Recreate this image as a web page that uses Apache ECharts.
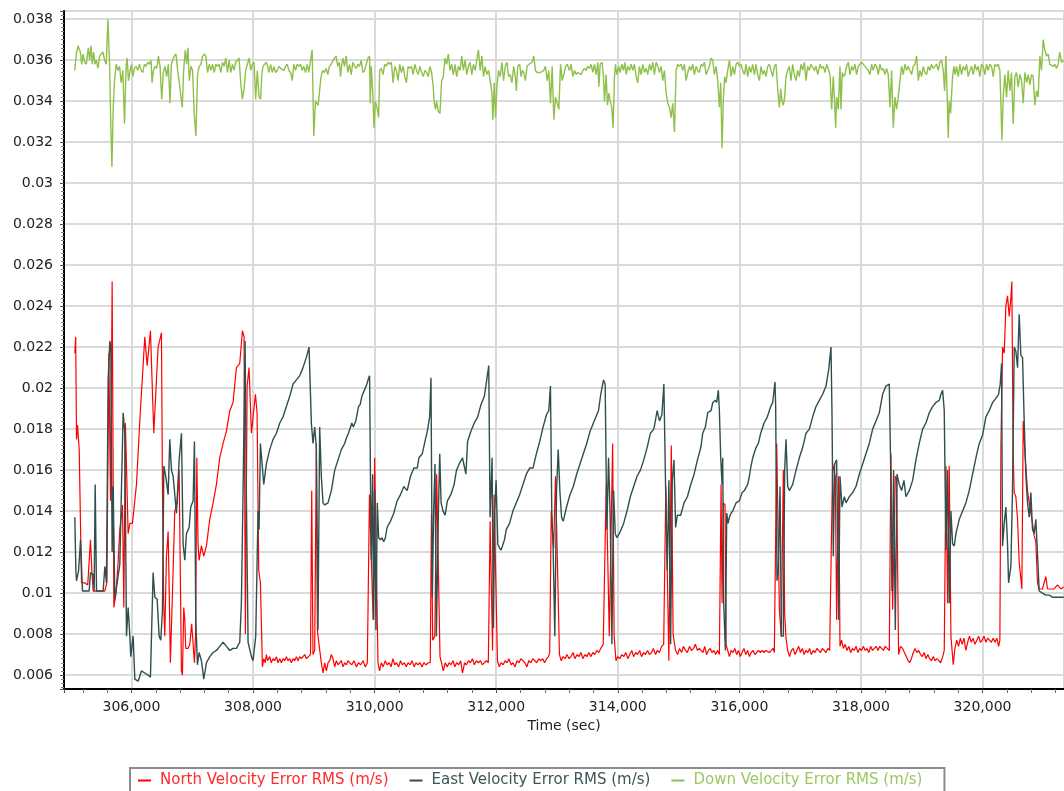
<!DOCTYPE html>
<html>
<head>
<meta charset="utf-8">
<script src="https://cdn.jsdelivr.net/npm/echarts/dist/echarts.min.js"></script>
<style>html,body{margin:0;padding:0;background:#fff;}#chart{width:1064px;height:791px;}</style>
</head>
<body>
<div id="chart"></div>
<script>
const seriesNames = ['North Velocity Error RMS (m/s)', 'East Velocity Error RMS (m/s)', 'Down Velocity Error RMS (m/s)'];
const seriesColors = ['#ff0000', '#2f4f4f', '#8fc04a'];
const legendTextColors = ['#ff2a2a', '#3d5656', '#9cc764'];
const xAxisName = 'Time (sec)';
const xRange = [304890, 321340];
const yRange = [0.00532, 0.0384];
const xStep = 2000;
const yStep = 0.002;

const northData = [
[305068,0.0217],[305082,0.0225],[305096,0.0175],[305112,0.0182],[305140,0.0170],[305178,0.0105],[305230,0.0105],[305280,0.0104],[305304,0.0104],[305326,0.0126],[305348,0.0111],[305370,0.0101],[305430,0.0101],[305500,0.0101],[305560,0.0101],[305595,0.0105],[305628,0.0217],[305655,0.0145],[305682,0.0252],[305710,0.0093],[305745,0.0100],[305780,0.0115],[305808,0.0131],[305852,0.0143],[305874,0.0093],[305900,0.0183],[305945,0.0129],[305973,0.0134],[306016,0.0134],[306082,0.0153],[306137,0.0184],[306219,0.0225],[306258,0.0211],[306312,0.0228],[306367,0.0178],[306438,0.0220],[306493,0.0227],[306510,0.0150],[306530,0.0095],[306548,0.0079],[306575,0.0118],[306603,0.0130],[306619,0.0104],[306640,0.0066],[306685,0.0111],[306712,0.0140],[306751,0.0144],[306784,0.0160],[306806,0.0160],[306822,0.0062],[306838,0.0060],[306860,0.0093],[306877,0.0087],[306893,0.0073],[306930,0.0073],[306959,0.0075],[306990,0.0085],[307014,0.0085],[307036,0.0066],[307055,0.0080],[307075,0.0166],[307095,0.0124],[307112,0.0116],[307151,0.0123],[307189,0.0118],[307233,0.0123],[307288,0.0136],[307343,0.0144],[307397,0.0153],[307452,0.0166],[307507,0.0173],[307562,0.0179],[307617,0.0189],[307671,0.0193],[307726,0.0210],[307781,0.0212],[307825,0.0228],[307852,0.0225],[307874,0.0080],[307902,0.0201],[307934,0.0210],[307973,0.0178],[308000,0.0186],[308039,0.0197],[308066,0.0188],[308093,0.0111],[308121,0.0105],[308154,0.0064],
[308176,0.0068],[308200,0.0066],[308219,0.0070],[308240,0.0067],[308274,0.0069],[308300,0.0066],[308329,0.0068],[308355,0.0067],[308384,0.0069],[308410,0.0066],[308439,0.0068],[308465,0.0066],[308493,0.0068],[308520,0.0067],[308548,0.0069],[308575,0.0067],[308603,0.0068],[308630,0.0066],[308658,0.0068],[308685,0.0067],[308713,0.0069],[308740,0.0067],[308767,0.0069],[308795,0.0068],[308822,0.0069],[308850,0.0070],[308877,0.0068],[308910,0.0069],[308945,0.0070],[308965,0.0150],[308986,0.0070],[309014,0.0072],[309041,0.0173],[309058,0.0082],[309085,0.0075],[309123,0.0066],[309151,0.0061],[309178,0.0066],[309206,0.0062],[309233,0.0066],[309261,0.0067],[309288,0.0070],[309315,0.0068],[309343,0.0064],[309370,0.0067],[309398,0.0065],[309425,0.0066],[309452,0.0067],[309480,0.0064],[309507,0.0066],[309535,0.0065],[309562,0.0067],
[309589,0.0066],[309625,0.0065],[309660,0.0067],[309700,0.0064],[309735,0.0066],[309770,0.0065],[309810,0.0067],[309845,0.0064],[309880,0.0066],[309901,0.0066],[309915,0.0148],[309945,0.0148],[309975,0.0087],[310000,0.0166],[310030,0.0166],[310055,0.0066],[310080,0.0062],[310110,0.0066],[310140,0.0064],[310175,0.0067],[310205,0.0065],[310240,0.0066],[310270,0.0064],[310300,0.0068],[310330,0.0065],[310360,0.0066],[310395,0.0064],[310425,0.0067],[310455,0.0065],[310490,0.0066],[310520,0.0064],[310550,0.0066],[310585,0.0065],[310615,0.0067],[310650,0.0064],[310680,0.0066],[310710,0.0065],[310745,0.0066],[310780,0.0064],[310810,0.0066],[310845,0.0065],[310880,0.0066],[310915,0.0066],[310935,0.0139],[310955,0.0077],[310990,0.0079],[311020,0.0158],[311045,0.0158],[311075,0.0069],[311100,0.0066],[311130,0.0062],[311160,0.0066],[311195,0.0064],[311225,0.0066],[311255,0.0065],[311290,0.0067],[311320,0.0064],[311350,0.0066],[311385,0.0065],[311415,0.0067],[311445,0.0061],[311480,0.0066],[311510,0.0065],[311545,0.0067],[311575,0.0066],[311610,0.0068],[311640,0.0065],[311675,0.0067],[311705,0.0066],[311740,0.0067],[311770,0.0065],[311805,0.0066],[311840,0.0067],[311870,0.0066],[311900,0.0135],[311940,0.0072],[311965,0.0148],[311990,0.0148],[312020,0.0067],[312050,0.0064],[312080,0.0066],[312115,0.0065],[312145,0.0067],[312180,0.0066],[312210,0.0068],[312245,0.0065],[312275,0.0066],[312310,0.0064],[312340,0.0067],[312375,0.0066],[312405,0.0068],[312440,0.0067],[312470,0.0066],[312505,0.0064],[312535,0.0067],[312570,0.0066],[312600,0.0068],[312635,0.0067],[312665,0.0066],[312700,0.0068],[312730,0.0067],[312765,0.0068],[312795,0.0066],[312830,0.0068],[312860,0.0069],[312880,0.0071],[312905,0.0140],[312945,0.0122],[312975,0.0157],[313000,0.0157],[313040,0.0070],[313070,0.0067],[313100,0.0069],[313135,0.0068],[313165,0.0070],[313200,0.0068],[313230,0.0069],[313265,0.0071],[313295,0.0068],[313330,0.0070],[313360,0.0069],[313395,0.0071],[313425,0.0068],[313460,0.0070],[313490,0.0069],[313525,0.0071],[313555,0.0069],[313590,0.0071],[313620,0.0070],[313655,0.0072],[313685,0.0071],[313720,0.0073],[313760,0.0075],[313810,0.0153],[313860,0.0079],[313915,0.0173],[313940,0.0079],[313970,0.0067],[314000,0.0069],[314035,0.0068],[314065,0.0070],[314100,0.0069],[314130,0.0071],[314165,0.0068],[314195,0.0070],[314230,0.0072],[314260,0.0069],[314295,0.0071],[314325,0.0070],[314360,0.0072],[314390,0.0069],[314425,0.0071],[314455,0.0070],[314490,0.0072],[314520,0.0070],[314555,0.0071],[314585,0.0073],[314620,0.0070],[314650,0.0072],[314685,0.0071],[314720,0.0074],[314755,0.0075],[314790,0.0152],[314840,0.0067],[314880,0.0172],[314910,0.0080],[314950,0.0072],[314985,0.0070],[315015,0.0073],[315050,0.0071],[315080,0.0074],[315115,0.0072],[315145,0.0071],[315180,0.0074],[315210,0.0072],[315245,0.0073],[315275,0.0075],[315310,0.0072],[315340,0.0073],
[315370,0.0072],[315400,0.0071],[315430,0.0074],[315460,0.0070],[315490,0.0072],[315520,0.0073],[315550,0.0071],[315580,0.0072],[315610,0.0070],[315640,0.0072],[315671,0.0070],[315699,0.0153],[315715,0.0095],[315737,0.0144],[315764,0.0143],[315781,0.0075],[315808,0.0072],[315836,0.0069],[315865,0.0072],[315895,0.0071],[315925,0.0073],[315955,0.0070],[315985,0.0072],[316015,0.0069],[316045,0.0071],[316075,0.0073],[316105,0.0070],[316135,0.0072],[316165,0.0069],[316195,0.0071],[316225,0.0072],[316255,0.0070],[316285,0.0071],[316315,0.0072],[316345,0.0071],[316375,0.0072],[316405,0.0071],[316435,0.0072],[316465,0.0072],[316495,0.0071],[316525,0.0072],[316555,0.0073],[316575,0.0071],[316614,0.0173],[316636,0.0173],[316658,0.0092],[316690,0.0079],[316723,0.0160],[316745,0.0090],[316767,0.0078],[316795,0.0072],[316825,0.0069],[316855,0.0072],[316885,0.0073],[316915,0.0070],[316945,0.0072],[316975,0.0074],[317005,0.0071],[317035,0.0073],[317065,0.0070],[317095,0.0072],[317125,0.0071],[317155,0.0073],[317185,0.0070],[317215,0.0072],[317245,0.0071],[317275,0.0073],[317305,0.0072],[317335,0.0071],[317365,0.0073],[317395,0.0072],[317425,0.0071],[317455,0.0073],[317485,0.0072],[317507,0.0072],[317534,0.0163],[317578,0.0157],[317600,0.0087],[317633,0.0157],[317655,0.0074],[317680,0.0077],[317710,0.0073],[317740,0.0075],[317770,0.0072],[317800,0.0074],[317830,0.0071],[317860,0.0073],[317890,0.0072],[317920,0.0074],[317950,0.0071],[317980,0.0073],[318010,0.0072],[318040,0.0074],[318070,0.0072],[318100,0.0073],[318130,0.0071],[318160,0.0074],[318190,0.0072],[318220,0.0073],[318250,0.0074],[318280,0.0072],[318310,0.0074],[318340,0.0073],[318370,0.0072],[318400,0.0074],[318430,0.0073],[318466,0.0072],[318493,0.0168],[318521,0.0092],[318565,0.0157],[318587,0.0156],[318619,0.0070],[318650,0.0074],[318685,0.0073],[318715,0.0071],[318745,0.0069],[318775,0.0067],[318800,0.0066],[318830,0.0068],[318860,0.0071],[318890,0.0073],[318920,0.0071],[318950,0.0072],[318980,0.0070],[319010,0.0069],[319040,0.0071],[319070,0.0068],[319100,0.0070],[319130,0.0068],[319160,0.0067],[319190,0.0069],[319220,0.0067],[319250,0.0068],[319280,0.0067],[319310,0.0066],[319345,0.0069],[319370,0.0072],[319398,0.0162],[319425,0.0095],[319452,0.0162],[319480,0.0079],[319518,0.0065],[319545,0.0073],[319575,0.0077],[319605,0.0074],[319635,0.0078],[319665,0.0075],[319695,0.0078],[319725,0.0072],[319755,0.0076],[319785,0.0079],[319815,0.0076],[319845,0.0078],[319875,0.0075],[319905,0.0077],[319935,0.0079],[319965,0.0076],[319995,0.0077],[320025,0.0079],[320055,0.0076],[320085,0.0078],[320115,0.0077],[320145,0.0076],[320175,0.0078],[320205,0.0076],[320235,0.0078],[320265,0.0074],[320285,0.0077],
[320302,0.0171],[320329,0.0220],[320357,0.0217],[320384,0.0240],[320411,0.0245],[320439,0.0235],[320466,0.0244],[320482,0.0252],[320504,0.0167],[320521,0.0149],[320548,0.0147],[320576,0.0136],[320603,0.0115],[320630,0.0115],[320647,0.0102],[320669,0.0184],[320702,0.0166],[320740,0.0150],[320768,0.0144],[320822,0.0134],[320850,0.0128],[320877,0.0125],[320904,0.0105],[320932,0.0102],[320986,0.0102],[321041,0.0108],[321069,0.0102],[321123,0.0102],[321178,0.0102],[321233,0.0104],[321288,0.0102],[321337,0.0103]
];

const eastData = [
[305068,0.0137],[305085,0.0111],[305096,0.0106],[305130,0.0111],[305162,0.0126],[305194,0.0101],[305250,0.0101],[305304,0.0101],[305326,0.0110],[305370,0.0109],[305386,0.0101],[305403,0.0153],[305425,0.0101],[305480,0.0101],[305534,0.0101],[305562,0.0113],[305589,0.0105],[305616,0.0204],[305644,0.0223],[305660,0.0220],[305682,0.0120],[305699,0.0152],[305726,0.0097],[305753,0.0097],[305808,0.0114],[305863,0.0188],[305890,0.0178],[305918,0.0079],[305945,0.0093],[305973,0.0079],[305989,0.0069],[306027,0.0079],[306055,0.0058],[306110,0.0057],[306164,0.0062],[306219,0.0061],[306274,0.0060],[306312,0.0059],[306356,0.0110],[306384,0.0098],[306422,0.0097],[306455,0.0079],[306482,0.0077],[306510,0.0092],[306532,0.0162],[306564,0.0157],[306603,0.0148],[306630,0.0175],[306658,0.0160],[306685,0.0157],[306740,0.0139],[306784,0.0165],[306822,0.0178],[306849,0.0124],[306877,0.0116],[306904,0.0129],[306948,0.0132],[306975,0.0142],[307014,0.0145],[307036,0.0174],[307058,0.0087],[307085,0.0065],[307112,0.0071],[307151,0.0067],[307189,0.0058],[307233,0.0066],[307288,0.0069],[307343,0.0071],[307397,0.0072],[307452,0.0074],[307507,0.0076],[307562,0.0074],[307617,0.0072],[307671,0.0073],[307726,0.0073],[307781,0.0076],[307808,0.0095],[307836,0.0150],[307869,0.0223],[307891,0.0144],[307918,0.0076],[307973,0.0069],[308000,0.0067],[308044,0.0079],[308082,0.0140],[308099,0.0131],[308121,0.0173],[308176,0.0153],[308219,0.0163],[308274,0.0170],[308329,0.0175],[308384,0.0178],[308439,0.0183],[308493,0.0186],[308548,0.0191],[308603,0.0196],[308658,0.0202],[308713,0.0204],[308767,0.0206],[308822,0.0210],[308877,0.0215],[308921,0.0220],[308959,0.0183],[308986,0.0173],[309014,0.0181],[309041,0.0171],[309068,0.0082],[309096,0.0181],[309123,0.0157],[309151,0.0144],[309178,0.0143],[309233,0.0144],[309288,0.0150],[309343,0.0160],[309398,0.0165],[309452,0.0170],[309507,0.0173],[309540,0.0176],
[309569,0.0178],[309625,0.0183],[309650,0.0181],[309690,0.0184],[309735,0.0191],[309762,0.0192],[309790,0.0196],[309818,0.0196],[309845,0.0200],[309873,0.0202],[309901,0.0205],[309917,0.0206],[309934,0.0147],[309945,0.0116],[309967,0.0158],[309983,0.0087],[310000,0.0150],[310022,0.0082],[310044,0.0144],[310066,0.0127],[310094,0.0126],[310121,0.0127],[310149,0.0125],[310177,0.0127],[310204,0.0132],[310260,0.0135],[310315,0.0139],[310370,0.0145],[310425,0.0148],[310480,0.0152],[310535,0.0150],[310590,0.0157],[310646,0.0161],[310701,0.0161],[310729,0.0166],[310784,0.0168],[310828,0.0174],[310867,0.0179],[310905,0.0186],[310927,0.0205],[310949,0.0098],[310971,0.0140],[310993,0.0163],[311016,0.0079],[311049,0.0140],[311071,0.0168],[311093,0.0144],[311126,0.0140],[311159,0.0138],[311197,0.0145],[311253,0.0148],[311308,0.0153],[311347,0.0160],[311391,0.0163],[311446,0.0166],[311501,0.0158],[311529,0.0174],[311584,0.0179],[311639,0.0183],[311695,0.0186],[311750,0.0192],[311805,0.0196],[311844,0.0204],[311877,0.0211],[311899,0.0137],[311932,0.0166],[311954,0.0083],[311976,0.0140],[311998,0.0155],[312026,0.0124],[312053,0.0122],[312081,0.0121],[312136,0.0126],[312164,0.0131],[312219,0.0134],[312274,0.0140],[312329,0.0144],[312385,0.0148],[312440,0.0153],[312495,0.0158],[312550,0.0161],[312605,0.0161],[312661,0.0168],[312716,0.0174],[312771,0.0181],[312826,0.0187],[312865,0.0189],[312892,0.0201],[312914,0.0140],[312936,0.0122],[312964,0.0079],[312992,0.0150],[313020,0.0170],[313047,0.0150],[313075,0.0137],[313102,0.0135],[313157,0.0142],[313213,0.0148],[313268,0.0152],[313323,0.0158],[313378,0.0163],[313433,0.0168],[313489,0.0173],[313544,0.0179],[313599,0.0183],[313654,0.0187],[313682,0.0189],[313720,0.0197],[313765,0.0204],[313792,0.0202],[313820,0.0131],[313848,0.0166],[313875,0.0137],[313903,0.0075],[313930,0.0150],[313958,0.0129],[313985,0.0127],[314041,0.0130],[314096,0.0134],[314151,0.0140],[314206,0.0147],[314261,0.0152],[314317,0.0157],[314372,0.0160],[314427,0.0165],[314482,0.0171],[314537,0.0178],[314593,0.0180],[314648,0.0189],[314686,0.0184],[314725,0.0187],[314758,0.0202],[314786,0.0152],[314813,0.0111],[314841,0.0155],[314869,0.0075],[314896,0.0155],[314924,0.0165],[314951,0.0132],[314979,0.0138],[315034,0.0138],[315089,0.0144],[315145,0.0147],[315200,0.0153],[315255,0.0158],[315310,0.0165],[315366,0.0171],
[315397,0.0178],[315440,0.0181],[315480,0.0188],[315535,0.0189],[315562,0.0193],[315605,0.0194],[315627,0.0193],[315654,0.0199],[315671,0.0189],[315693,0.0166],[315715,0.0153],[315726,0.0166],[315742,0.0095],[315770,0.0072],[315792,0.0139],[315814,0.0134],[315836,0.0137],[315863,0.0139],[315890,0.0140],[315945,0.0144],[316000,0.0145],[316044,0.0149],[316082,0.0150],[316137,0.0153],[316164,0.0157],[316192,0.0162],[316219,0.0166],[316274,0.0171],[316312,0.0173],[316351,0.0178],[316406,0.0183],[316460,0.0186],[316515,0.0191],[316548,0.0193],[316586,0.0203],[316597,0.0191],[316619,0.0106],[316641,0.0111],[316669,0.0152],[316690,0.0079],[316723,0.0079],[316745,0.0160],[316767,0.0175],[316795,0.0152],[316822,0.0150],[316877,0.0153],[316932,0.0160],[316986,0.0166],[317041,0.0171],[317096,0.0178],[317151,0.0180],[317206,0.0186],[317260,0.0191],[317315,0.0194],[317370,0.0197],[317425,0.0201],[317469,0.0209],[317507,0.0220],[317523,0.0189],[317545,0.0118],[317567,0.0163],[317600,0.0165],[317633,0.0087],[317655,0.0157],[317688,0.0142],[317726,0.0147],[317754,0.0144],[317808,0.0147],[317863,0.0149],[317918,0.0152],[317973,0.0158],[318028,0.0163],[318082,0.0168],[318137,0.0173],[318192,0.0180],[318247,0.0184],[318302,0.0188],[318356,0.0197],[318411,0.0201],[318466,0.0202],[318488,0.0163],[318510,0.0101],[318537,0.0160],[318565,0.0082],[318592,0.0158],[318630,0.0153],[318668,0.0150],[318707,0.0155],[318740,0.0147],[318795,0.0150],[318850,0.0155],[318904,0.0165],[318959,0.0173],[319014,0.0180],[319069,0.0183],[319124,0.0188],[319178,0.0191],[319233,0.0193],[319288,0.0194],[319315,0.0197],[319343,0.0199],[319370,0.0189],[319398,0.0121],[319425,0.0160],[319452,0.0095],[319480,0.0140],[319507,0.0124],[319535,0.0123],[319562,0.0129],[319617,0.0136],[319672,0.0140],[319726,0.0144],[319781,0.0150],[319836,0.0158],[319891,0.0166],[319946,0.0173],[320000,0.0177],[320055,0.0186],[320110,0.0189],[320165,0.0193],[320220,0.0195],[320263,0.0197],[320291,0.0202],[320313,0.0212],[320329,0.0123],[320357,0.0134],[320384,0.0142],[320411,0.0124],[320428,0.0105],[320466,0.0113],[320493,0.0150],[320521,0.0220],[320548,0.0218],[320576,0.0210],[320603,0.0236],[320630,0.0216],[320658,0.0215],[320685,0.0184],[320713,0.0157],[320740,0.0144],[320768,0.0137],[320795,0.0149],[320822,0.0131],[320850,0.0129],[320877,0.0136],[320904,0.0119],[320932,0.0101],[320986,0.0100],[321041,0.0099],[321096,0.0099],[321151,0.0098],[321288,0.0098],[321337,0.0098]
];

const downData = [
[305066,0.0355],[305093,0.0363],[305120,0.0367],[305159,0.0364],[305181,0.0358],[305202,0.0363],[305230,0.0359],[305257,0.0358],[305290,0.0366],[305312,0.0360],[305334,0.0367],[305355,0.0358],[305377,0.0364],[305399,0.0358],[305421,0.0360],[305448,0.0356],[305476,0.0362],[305503,0.0363],[305530,0.0364],[305558,0.0360],[305585,0.0358],[305612,0.0380],[305640,0.0358],[305656,0.0334],[305678,0.0308],[305700,0.0337],[305721,0.0350],[305749,0.0358],[305776,0.0355],[305803,0.0357],[305831,0.0349],[305858,0.0355],[305885,0.0329],[305913,0.0358],[305929,0.0361],[305951,0.0350],[305978,0.0355],[306000,0.0358],[306022,0.0352],[306049,0.0356],[306076,0.0357],[306104,0.0355],[306131,0.0358],[306158,0.0355],[306186,0.0354],[306213,0.0358],[306240,0.0357],[306268,0.0359],[306295,0.0358],[306322,0.0360],[306339,0.0349],[306361,0.0355],[306388,0.0357],[306415,0.0356],[306443,0.0362],[306470,0.0357],[306497,0.0341],[306524,0.0354],[306552,0.0357],[306579,0.0352],[306606,0.0358],[306634,0.0339],[306656,0.0358],[306677,0.0360],[306705,0.0362],[306732,0.0363],[306759,0.0355],[306787,0.0349],[306814,0.0342],[306836,0.0337],[306858,0.0355],[306885,0.0365],[306907,0.0358],[306929,0.0366],[306951,0.0350],[306978,0.0357],[307005,0.0355],[307033,0.0333],[307060,0.0323],[307087,0.0353],[307115,0.0357],[307142,0.0358],[307169,0.0362],[307197,0.0363],[307224,0.0362],[307251,0.0354],[307279,0.0358],[307306,0.0355],[307333,0.0358],[307361,0.0354],[307388,0.0358],[307415,0.0357],[307442,0.0358],[307470,0.0354],[307497,0.0359],[307524,0.0357],[307552,0.0361],[307579,0.0354],[307606,0.0360],[307633,0.0354],[307661,0.0358],[307688,0.0355],[307715,0.0359],[307743,0.0360],[307770,0.0361],[307797,0.0349],[307825,0.0341],[307852,0.0346],[307879,0.0355],[307907,0.0358],[307934,0.0361],[307961,0.0355],[307988,0.0358],[308016,0.0359],[308043,0.0341],[308070,0.0355],[308098,0.0342],[308125,0.0341],[308141,0.0352],[308163,0.0357],[308191,0.0358],[308218,0.0359],[308240,0.0357],[308262,0.0354],[308289,0.0358],[308316,0.0354],[308344,0.0357],[308371,0.0354],[308398,0.0355],[308426,0.0357],[308453,0.0356],[308480,0.0356],[308508,0.0355],[308535,0.0357],[308562,0.0358],[308589,0.0355],[308617,0.0354],[308644,0.0350],[308671,0.0358],[308699,0.0355],[308726,0.0358],[308753,0.0357],[308781,0.0358],[308808,0.0355],[308835,0.0357],[308863,0.0354],[308890,0.0358],[308917,0.0354],[308945,0.0354],[308972,0.0365],[308999,0.0323],[309027,0.0340],[309070,0.0338],
[309118,0.0352],[309146,0.0355],[309174,0.0354],[309201,0.0356],[309229,0.0353],[309256,0.0357],[309284,0.0358],[309311,0.0358],[309339,0.0361],[309366,0.0362],[309394,0.0357],[309421,0.0359],[309438,0.0352],[309460,0.0358],[309477,0.0361],[309504,0.0357],[309532,0.0362],[309559,0.0354],[309587,0.0358],[309614,0.0353],[309642,0.0359],[309669,0.0357],[309697,0.0356],[309724,0.0358],[309752,0.0357],[309780,0.0360],[309807,0.0354],[309835,0.0355],[309862,0.0358],[309890,0.0361],[309917,0.0362],[309928,0.0339],[309945,0.0357],[309972,0.0342],[309989,0.0327],[310011,0.0340],[310039,0.0337],[310066,0.0332],[310083,0.0355],[310110,0.0356],[310138,0.0353],[310165,0.0358],[310193,0.0357],[310220,0.0359],[310248,0.0358],[310276,0.0359],[310303,0.0349],[310331,0.0357],[310358,0.0355],[310386,0.0350],[310413,0.0358],[310441,0.0354],[310468,0.0357],[310496,0.0352],[310523,0.0349],[310551,0.0357],[310579,0.0356],[310606,0.0357],[310634,0.0353],[310661,0.0358],[310689,0.0355],[310716,0.0353],[310744,0.0357],[310771,0.0354],[310799,0.0352],[310827,0.0355],[310854,0.0354],[310882,0.0352],[310909,0.0357],[310937,0.0354],[310964,0.0347],[310981,0.0339],[311003,0.0336],[311019,0.0340],[311047,0.0335],[311074,0.0334],[311102,0.0350],[311130,0.0352],[311157,0.0361],[311185,0.0358],[311212,0.0363],[311240,0.0355],[311267,0.0358],[311295,0.0353],[311322,0.0358],[311350,0.0352],[311378,0.0357],[311405,0.0355],[311433,0.0362],[311460,0.0355],[311488,0.0360],[311515,0.0353],[311543,0.0357],[311570,0.0359],[311598,0.0353],[311625,0.0358],[311653,0.0355],[311681,0.0360],[311708,0.0365],[311736,0.0355],[311763,0.0362],[311791,0.0352],[311818,0.0357],[311846,0.0353],[311873,0.0355],[311901,0.0350],[311929,0.0344],[311945,0.0331],[311967,0.0349],[311989,0.0332],[312011,0.0347],[312039,0.0355],[312066,0.0352],[312094,0.0359],[312121,0.0350],[312149,0.0357],[312176,0.0359],[312204,0.0352],[312231,0.0353],[312259,0.0349],[312287,0.0357],[312314,0.0352],[312331,0.0345],[312353,0.0357],[312386,0.0358],[312408,0.0352],[312430,0.0355],[312452,0.0354],[312480,0.0350],[312507,0.0357],[312535,0.0358],[312562,0.0358],[312590,0.0359],[312617,0.0362],[312645,0.0355],[312672,0.0354],[312727,0.0354],[312783,0.0355],[312810,0.0357],[312838,0.0350],[312865,0.0355],[312893,0.0339],[312920,0.0357],[312948,0.0331],[312975,0.0342],[313003,0.0339],[313030,0.0336],[313058,0.0358],[313086,0.0350],[313113,0.0353],[313141,0.0357],[313168,0.0358],
[313205,0.0355],[313233,0.0358],[313260,0.0352],[313288,0.0355],[313315,0.0353],[313342,0.0354],[313370,0.0354],[313397,0.0353],[313425,0.0355],[313452,0.0356],[313479,0.0355],[313507,0.0357],[313534,0.0356],[313562,0.0358],[313589,0.0354],[313616,0.0358],[313644,0.0353],[313671,0.0359],[313688,0.0347],[313710,0.0358],[313742,0.0359],[313764,0.0352],[313781,0.0340],[313808,0.0353],[313830,0.0338],[313852,0.0344],[313874,0.0340],[313901,0.0337],[313923,0.0327],[313945,0.0352],[313962,0.0358],[313984,0.0353],[314016,0.0357],[314038,0.0354],[314066,0.0358],[314093,0.0355],[314115,0.0359],[314137,0.0353],[314164,0.0357],[314192,0.0355],[314219,0.0358],[314247,0.0355],[314274,0.0358],[314301,0.0352],[314329,0.0349],[314356,0.0357],[314384,0.0353],[314411,0.0358],[314438,0.0354],[314466,0.0356],[314493,0.0353],[314521,0.0358],[314548,0.0355],[314575,0.0359],[314603,0.0353],[314630,0.0359],[314658,0.0357],[314685,0.0354],[314712,0.0357],[314740,0.0350],[314767,0.0355],[314795,0.0344],[314822,0.0339],[314849,0.0337],[314877,0.0332],[314904,0.0339],[314932,0.0325],[314959,0.0355],[314986,0.0358],[315014,0.0357],[315041,0.0358],[315069,0.0355],[315096,0.0358],[315123,0.0350],[315151,0.0354],[315178,0.0357],[315206,0.0355],[315233,0.0358],[315260,0.0353],[315288,0.0357],[315315,0.0355],[315343,0.0354],[315370,0.0358],[315397,0.0357],[315425,0.0359],[315452,0.0353],[315480,0.0355],[315507,0.0357],[315534,0.0361],[315562,0.0360],[315589,0.0353],[315617,0.0357],[315644,0.0350],[315671,0.0337],[315693,0.0349],[315715,0.0317],[315737,0.0342],[315759,0.0352],[315781,0.0349],[315808,0.0355],[315836,0.0360],[315863,0.0352],[315891,0.0357],[315918,0.0353],[315945,0.0358],[315973,0.0359],[316000,0.0357],[316027,0.0358],[316055,0.0355],[316082,0.0353],[316110,0.0358],[316137,0.0352],[316164,0.0357],[316192,0.0354],[316219,0.0358],[316247,0.0353],[316274,0.0358],[316301,0.0353],[316329,0.0350],[316356,0.0357],[316384,0.0353],[316411,0.0355],[316438,0.0352],[316466,0.0357],[316493,0.0358],[316521,0.0355],[316548,0.0352],[316575,0.0357],[316603,0.0358],[316630,0.0346],[316658,0.0337],[316680,0.0346],[316702,0.0340],[316723,0.0338],[316745,0.0342],[316767,0.0352],[316795,0.0355],[316822,0.0357],[316849,0.0350],[316877,0.0358],[316904,0.0353],[316932,0.0350],[316959,0.0355],[316986,0.0352],[317014,0.0358],[317041,0.0355],[317069,0.0359],[317096,0.0350],[317123,0.0357],[317151,0.0355],[317178,0.0358],[317206,0.0358],[317233,0.0355],[317260,0.0357],[317288,0.0353],
[317326,0.0358],[317353,0.0356],[317381,0.0357],[317408,0.0354],[317436,0.0358],[317463,0.0358],[317490,0.0353],[317518,0.0336],[317545,0.0352],[317562,0.0342],[317584,0.0327],[317600,0.0342],[317627,0.0336],[317655,0.0357],[317671,0.0336],[317693,0.0354],[317710,0.0352],[317737,0.0353],[317764,0.0357],[317792,0.0359],[317819,0.0353],[317847,0.0357],[317874,0.0355],[317901,0.0358],[317929,0.0353],[317956,0.0357],[317984,0.0358],[318011,0.0359],[318038,0.0358],[318066,0.0357],[318093,0.0356],[318121,0.0355],[318148,0.0353],[318175,0.0358],[318203,0.0355],[318230,0.0358],[318258,0.0357],[318285,0.0353],[318312,0.0358],[318340,0.0355],[318367,0.0356],[318395,0.0353],[318422,0.0356],[318449,0.0353],[318477,0.0337],[318504,0.0355],[318532,0.0327],[318559,0.0342],[318586,0.0336],[318614,0.0342],[318641,0.0350],[318669,0.0357],[318696,0.0353],[318723,0.0358],[318751,0.0355],[318778,0.0357],[318806,0.0357],[318833,0.0353],[318860,0.0357],[318888,0.0358],[318915,0.0362],[318943,0.0350],[318970,0.0355],[318997,0.0352],[319025,0.0357],[319052,0.0354],[319080,0.0353],[319107,0.0357],[319134,0.0355],[319162,0.0358],[319189,0.0356],[319217,0.0357],[319244,0.0358],[319271,0.0355],[319299,0.0359],[319326,0.0360],[319354,0.0355],[319376,0.0345],[319397,0.0362],[319419,0.0342],[319436,0.0322],[319452,0.0340],[319474,0.0334],[319507,0.0352],[319529,0.0357],[319551,0.0353],[319573,0.0357],[319600,0.0352],[319628,0.0358],[319655,0.0353],[319682,0.0357],[319710,0.0355],[319737,0.0358],[319764,0.0352],[319792,0.0355],[319819,0.0357],[319847,0.0353],[319874,0.0358],[319902,0.0355],[319929,0.0357],[319956,0.0352],[319984,0.0358],[320011,0.0357],[320039,0.0353],[320066,0.0358],[320093,0.0355],[320121,0.0358],[320148,0.0357],[320176,0.0352],[320203,0.0358],[320230,0.0357],[320258,0.0358],[320285,0.0355],[320302,0.0339],[320318,0.0321],[320340,0.0342],[320367,0.0353],[320395,0.0342],[320422,0.0355],[320449,0.0345],[320477,0.0354],[320504,0.0329],[320532,0.0352],[320559,0.0354],[320586,0.0347],[320614,0.0353],[320641,0.0350],[320669,0.0339],[320696,0.0354],[320724,0.0349],[320751,0.0353],[320778,0.0348],[320806,0.0353],[320833,0.0352],[320860,0.0338],[320888,0.0345],[320915,0.0342],[320943,0.0362],[320970,0.0355],[320997,0.0370],[321025,0.0365],[321052,0.0362],[321080,0.0363],[321107,0.0358],[321134,0.0358],[321162,0.0357],[321189,0.0358],[321217,0.0356],[321244,0.0358],[321271,0.0364],[321299,0.0359],[321337,0.0360]
];

const allData = [northData, eastData, downData];
const FONT = 'DejaVu Sans';

const chart = echarts.init(document.getElementById('chart'), null, {renderer: 'canvas'});
chart.setOption({
  animation: false,
  backgroundColor: '#ffffff',
  textStyle: {fontFamily: FONT},
  grid: {left: 64, right: 0, top: 11, bottom: 102, show: true, borderColor: '#8a8a8a', borderWidth: 1.5, backgroundColor: 'transparent'},
  legend: {
    left: 130, top: 768,
    padding: [5, 22, 5, 8],
    borderColor: '#8c8c8c', borderWidth: 2, borderRadius: 0,
    icon: 'rect', itemWidth: 13, itemHeight: 2, itemGap: 21,
    textStyle: {fontSize: 15, fontFamily: FONT, padding: [0, 0, 0, 4]},
    data: seriesNames.map((n, i) => ({name: n, textStyle: {color: legendTextColors[i]}}))
  },
  xAxis: {
    type: 'value', min: xRange[0], max: xRange[1], minInterval: xStep, maxInterval: xStep,
    name: xAxisName, nameLocation: 'middle', nameGap: 30,
    nameTextStyle: {fontSize: 14, color: '#222', fontFamily: FONT},
    axisLine: {show: true, onZero: false, lineStyle: {color: '#000', width: 2}},
    axisTick: {show: true, length: 4, lineStyle: {color: '#555'}},
    minorTick: {show: true, splitNumber: 5, length: 4, lineStyle: {color: '#777'}},
    splitLine: {show: true, lineStyle: {color: '#dadada', width: 2}},
    axisLabel: {showMinLabel: false, showMaxLabel: false, fontSize: 14, color: '#222', margin: 11, fontFamily: FONT}
  },
  yAxis: {
    type: 'value', min: yRange[0], max: yRange[1], minInterval: yStep, maxInterval: yStep,
    axisLine: {show: true, onZero: false, lineStyle: {color: '#000', width: 2}},
    axisTick: {show: true, length: 4, lineStyle: {color: '#555'}},
    minorTick: {show: true, splitNumber: 10, length: 3, lineStyle: {color: '#888'}},
    splitLine: {show: true, lineStyle: {color: '#dadada', width: 2}},
    axisLabel: {showMinLabel: false, showMaxLabel: false, fontSize: 14, color: '#222', margin: 11, fontFamily: FONT}
  },
  series: seriesNames.map((n, i) => ({
    name: n, type: 'line', data: allData[i], showSymbol: false, symbol: 'none',
    lineStyle: {color: seriesColors[i], width: i === 0 ? 1.2 : 1.4},
    itemStyle: {color: seriesColors[i]},
    emphasis: {disabled: true}
  }))
});
</script>
</body>
</html>
